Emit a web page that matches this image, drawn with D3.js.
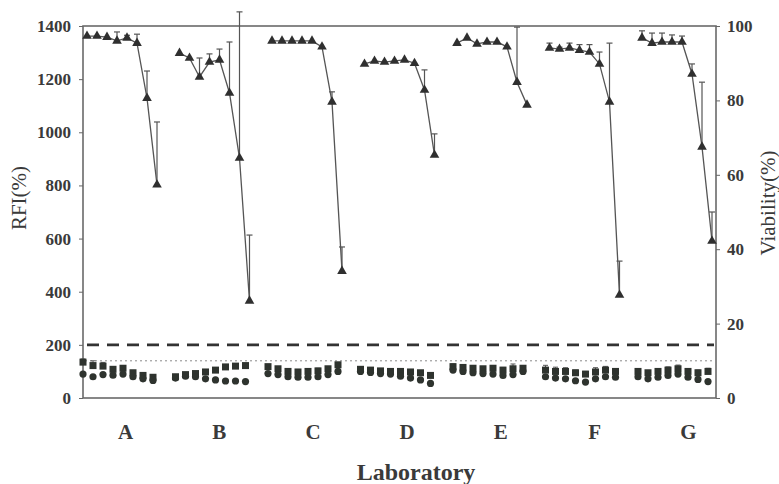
<!DOCTYPE html>
<html><head><meta charset="utf-8">
<script src="https://cdn.jsdelivr.net/npm/d3@7"></script>
<style>
body{margin:0;background:#fff;}
text{font-family:"Liberation Serif","Times New Roman",serif;}
</style></head>
<body>
<svg id="c" width="779" height="484"></svg>
<script>
// ---- data ----
const labs = ["A","B","C","D","E","F","G"];
const doseIndex = [0,1,2,3,4,5,6,7];
const rfiTicks = [0,200,400,600,800,1000,1200,1400];
const viabilityTicks = [0,20,40,60,80,100];

// Viability (%) per lab, 8 doses each
const viability = [
  [97.3, 97.3, 97.0, 96.0, 96.8, 95.4, 80.6, 57.3],
  [92.7, 91.4, 86.3, 90.3, 90.9, 82.0, 64.5, 26.1],
  [96.0, 96.0, 96.0, 96.0, 96.0, 94.4, 79.6, 34.1],
  [89.8, 90.6, 90.3, 90.6, 90.9, 90.0, 82.8, 65.3],
  [95.4, 96.8, 95.2, 95.7, 95.7, 94.4, 84.9, 78.8],
  [94.1, 93.8, 94.1, 93.5, 93.0, 89.8, 79.6, 27.7],
  [96.8, 95.4, 95.7, 95.7, 95.7, 87.1, 67.5, 42.2]
];
const viabilityErr = [
  [0, 0, 0, 2.4, 0.7, 2.4, 7.3, 16.9],
  [0, 0, 5.1, 2.2, 2.9, 13.7, 39.3, 17.7],
  [0, 0, 0, 0, 0, 0, 2.7, 6.5],
  [0, 0, 0, 0, 0, 0, 5.4, 5.7],
  [0, 0, 0, 0, 0, 0, 14.8, 0],
  [1.3, 0.5, 1.3, 1.5, 2.0, 3.2, 15.8, 9.1],
  [1.9, 2.7, 2.4, 1.9, 1.6, 2.7, 17.4, 7.8]
];
// RFI (%) two series (squares upper, circles lower)
const rfiSquare = [
  [135, 122, 120, 108, 112, 95, 85, 78],
  [80, 88, 92, 98, 105, 117, 120, 122],
  [118, 110, 100, 98, 100, 102, 110, 125],
  [108, 105, 102, 100, 100, 98, 95, 85],
  [118, 115, 112, 110, 112, 105, 110, 112],
  [105, 100, 100, 95, 90, 98, 105, 100],
  [100, 95, 100, 105, 110, 100, 95, 100]
];
const rfiCircle = [
  [90, 80, 88, 86, 90, 80, 72, 66],
  [75, 82, 80, 72, 68, 64, 64, 62],
  [92, 88, 80, 78, 78, 80, 88, 100],
  [100, 96, 92, 90, 82, 75, 68, 55],
  [105, 100, 95, 92, 90, 85, 88, 100],
  [80, 75, 72, 65, 60, 72, 80, 78],
  [80, 72, 78, 85, 90, 78, 70, 62]
];
const rfiErr = [
  [12, 18, 14, 8, 10, 6, 5, 5],
  [5, 6, 6, 8, 8, 8, 6, 6],
  [8, 6, 6, 6, 8, 10, 8, 8],
  [5, 5, 5, 6, 6, 8, 8, 10],
  [10, 6, 6, 6, 8, 10, 18, 8],
  [18, 16, 14, 10, 10, 16, 14, 10],
  [10, 8, 10, 12, 14, 10, 10, 12]
];
const rfiDashed = 200;
const viabilityDotted = 10;

// ---- layout ----
const L = 83, R = 716, T = 26, B = 398;
const svg = d3.select("#c");
const ink = "#3a3a3a";

const yL = d3.scaleLinear().domain([0,1400]).range([B,T]);
const yR = d3.scaleLinear().domain([0,100]).range([B,T]);
const xLab = d3.scalePoint().domain(labs).range([87, 642]);
const xDose = d3.scaleLinear().domain([0,7]).range([0,70]);
const px = (li,i) => xLab(labs[li]) + xDose(i);

// frame
svg.append("rect").attr("x",L).attr("y",T).attr("width",R-L).attr("height",B-T)
  .attr("fill","none").attr("stroke","#6a6a6a").attr("stroke-width",1.6);

// reference lines
svg.append("line").attr("x1",L+4).attr("x2",R-2).attr("y1",yL(rfiDashed)).attr("y2",yL(rfiDashed))
  .attr("stroke","#333").attr("stroke-width",2.6).attr("stroke-dasharray","12,8");
svg.append("line").attr("x1",L+2).attr("x2",R-2).attr("y1",yR(viabilityDotted)).attr("y2",yR(viabilityDotted))
  .attr("stroke","#8a8a8a").attr("stroke-width",1).attr("stroke-dasharray","2,3");

// axes
const gl = svg.append("g").attr("transform",`translate(${L},0)`)
  .call(d3.axisLeft(yL).tickValues(rfiTicks).tickSize(4).tickPadding(8).tickFormat(d3.format("d")));
const gr = svg.append("g").attr("transform",`translate(${R},0)`)
  .call(d3.axisRight(yR).tickValues(viabilityTicks).tickSize(4).tickPadding(7).tickFormat(d3.format("d")));
[gl,gr].forEach(g=>{
  g.select(".domain").remove();
  g.selectAll(".tick line").attr("stroke","#666");
  g.selectAll(".tick text").attr("fill",ink).attr("font-size",17).attr("font-weight","bold")
    .attr("font-family","'Liberation Serif',serif");
});

// x category labels
const gx = svg.append("g").attr("transform",`translate(0,${B})`)
  .call(d3.axisBottom(d3.scalePoint().domain(labs).range([xLab("A")+38, xLab("G")+46]))
    .tickSize(0).tickPadding(26));
gx.select(".domain").remove();
gx.selectAll(".tick text").attr("fill",ink).attr("font-size",21).attr("font-weight","bold")
  .attr("font-family","'Liberation Serif',serif");

// axis titles
svg.append("text").attr("transform","translate(26,198) rotate(-90)").attr("text-anchor","middle")
  .attr("font-size",21).attr("fill",ink).text("RFI(%)");
svg.append("text").attr("transform","translate(775,203) rotate(-90)").attr("text-anchor","middle")
  .attr("font-size",21).attr("fill",ink).text("Viability(%)");
svg.append("text").attr("x",416).attr("y",480).attr("text-anchor","middle")
  .attr("font-size",24).attr("font-weight","bold").attr("fill",ink).text("Laboratory");

// viability series
const line = d3.line().x(d=>d[0]).y(d=>d[1]);
const gv = svg.append("g");
viability.forEach((vals,li)=>{
  const pts = doseIndex.map(i=>[px(li,i), yR(vals[i])]);
  gv.append("path").attr("d",line(pts)).attr("fill","none").attr("stroke","#555").attr("stroke-width",1.3);
  doseIndex.forEach(i=>{
    const e = viabilityErr[li][i];
    if(e>0){
      const x = px(li,i), y0 = yR(vals[i]), y1 = yR(vals[i]+e);
      gv.append("line").attr("x1",x).attr("x2",x).attr("y1",y0).attr("y2",y1).attr("stroke","#555").attr("stroke-width",1.2);
      gv.append("line").attr("x1",x-3).attr("x2",x+3).attr("y1",y1).attr("y2",y1).attr("stroke","#555").attr("stroke-width",1.2);
    }
  });
  gv.selectAll(null).data(doseIndex).enter().append("path")
    .attr("d",d3.symbol(d3.symbolTriangle,40))
    .attr("transform",i=>`translate(${px(li,i)},${yR(vals[i])})`)
    .attr("fill","#2f2f2f");
});

// RFI series
const gb = svg.append("g");
rfiSquare.forEach((vals,li)=>{
  doseIndex.forEach(i=>{
    const x = px(li,i) - 4;
    const y0 = yL(vals[i]), y1 = yL(vals[i] + rfiErr[li][i]);
    gb.append("line").attr("x1",x).attr("x2",x).attr("y1",y0).attr("y2",y1).attr("stroke","#555").attr("stroke-width",1);
    gb.append("line").attr("x1",x-2.5).attr("x2",x+2.5).attr("y1",y1).attr("y2",y1).attr("stroke","#555").attr("stroke-width",1);
  });
  gb.selectAll(null).data(doseIndex).enter().append("rect")
    .attr("x",i=>px(li,i)-4-3.5).attr("y",i=>yL(vals[i])-3.5).attr("width",7).attr("height",7)
    .attr("fill","#2e332e");
  gb.selectAll(null).data(doseIndex).enter().append("circle")
    .attr("cx",i=>px(li,i)-4).attr("cy",i=>yL(rfiCircle[li][i])).attr("r",3.6)
    .attr("fill","#2e332e");
});
</script>
</body></html>
